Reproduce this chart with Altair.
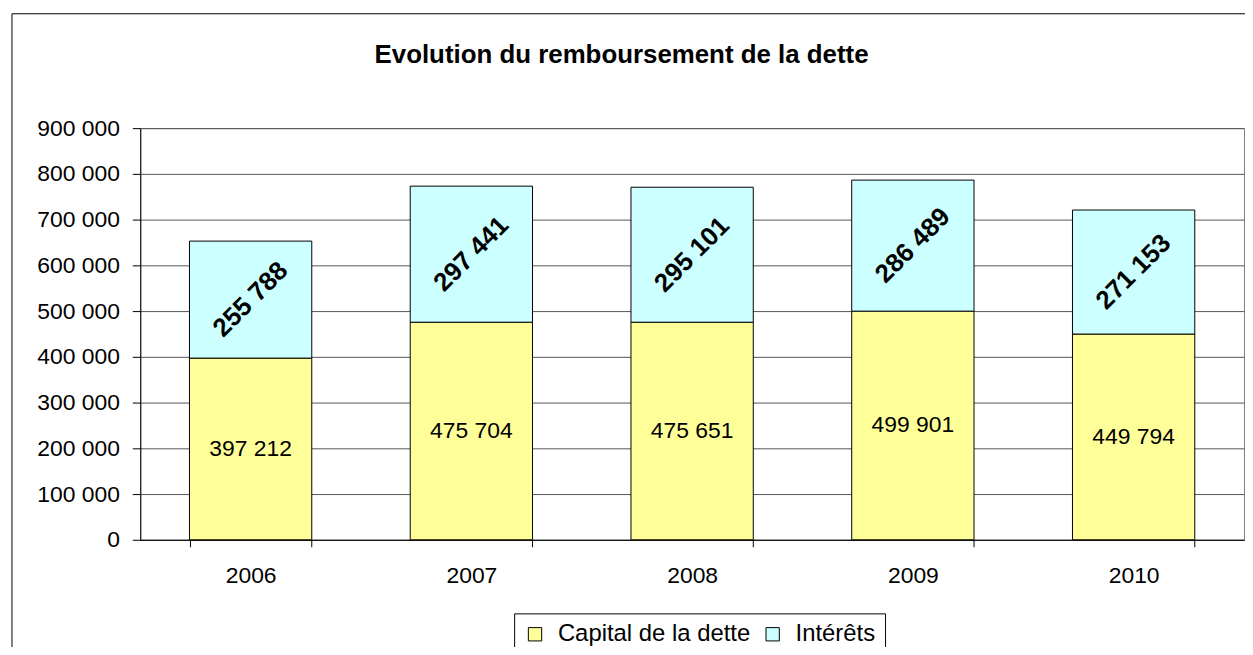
import altair as alt
import pandas as pd

# ---- data ----
titre = "Evolution du remboursement de la dette"
years = ["2006", "2007", "2008", "2009", "2010"]
capital = [397212, 475704, 475651, 499901, 449794]
interets = [255788, 297441, 295101, 286489, 271153]
series = ["Capital de la dette", "Intérêts"]
colors = ["#FFFF99", "#CCFFFF"]
y_ticks = list(range(0, 900001, 100000))

rows = []
for i, yr in enumerate(years):
    rows.append({"annee": yr, "serie": series[0], "ordre": 0, "valeur": capital[i]})
    rows.append({"annee": yr, "serie": series[1], "ordre": 1, "valeur": interets[i]})
df = pd.DataFrame(rows)
df["etiquette"] = df["valeur"].map(lambda v: f"{v:,}".replace(",", " "))

FONT = "Liberation Sans"
W, H = 1110, 414

xscale = alt.Scale(domain=years, paddingInner=0.446, paddingOuter=0.223)
yscale = alt.Scale(domain=[0, 900000], nice=False)

x_enc = alt.X(
    "annee:N",
    scale=xscale,
    axis=alt.Axis(
        title=None, labelAngle=0, tickBand="extent", tickSize=7,
        labelPadding=18, labelBaseline="top", grid=False,
    ),
)

base = (
    alt.Chart(df)
    .transform_stack(
        stack="valeur", groupby=["annee"], as_=["y0", "y1"],
        sort=[alt.SortField("ordre", order="ascending")],
    )
    .transform_calculate(mid="(datum.y0 + datum.y1) / 2")
)

bars = base.mark_bar(stroke="black", strokeWidth=1).encode(
    x=x_enc,
    y=alt.Y(
        "y0:Q",
        scale=yscale,
        axis=alt.Axis(
            title=None, values=y_ticks, tickSize=8, labelPadding=13,
            labelExpr="datum.value == 0 ? '0' : format(datum.value / 1000, 'd') + ' 000'",
            grid=True, gridColor="#555555", gridWidth=1,
        ),
    ),
    y2="y1:Q",
    color=alt.Color(
        "serie:N",
        scale=alt.Scale(domain=series, range=colors),
        legend=alt.Legend(
            title=None, orient="none", legendX=376, legendY=488,
            direction="horizontal", columns=2,
            strokeColor="black", fillColor="white", padding=9,
            symbolType="square", symbolSize=180,
            symbolStrokeColor="black", symbolStrokeWidth=1,
            labelFont=FONT, labelFontSize=24, labelColor="black",
            labelLimit=0, labelOffset=11, columnPadding=10,
        ),
    ),
    order=alt.Order("ordre:Q"),
)

lab_cap = base.transform_filter("datum.ordre == 0").mark_text(
    font=FONT, fontSize=23, color="black", align="center", baseline="middle"
).encode(x=x_enc, y=alt.Y("mid:Q", scale=yscale), text="etiquette:N")

lab_int = base.transform_filter("datum.ordre == 1").mark_text(
    font=FONT, fontSize=26, fontWeight="bold", color="black",
    align="center", baseline="middle", angle=315,
).encode(x=x_enc, y=alt.Y("mid:Q", scale=yscale), text="etiquette:N")

border = alt.Chart(pd.DataFrame({"k": [0]})).mark_rect(
    fill="transparent", stroke="black", strokeWidth=1
).encode(
    x=alt.value(-129), x2=alt.value(1400), y=alt.value(-115), y2=alt.value(700)
)

title_mark = alt.Chart(pd.DataFrame({"titre": [titre]})).mark_text(
    font=FONT, fontSize=26, fontWeight="bold", color="black",
    align="center", baseline="alphabetic",
).encode(x=alt.value(484), y=alt.value(-65), text="titre:N")

chart = (
    alt.layer(border, bars, lab_cap, lab_int, title_mark)
    .properties(
        width=W, height=H,
        autosize=alt.AutoSizeParams(type="none"),
        padding={"left": 133, "top": 119, "right": 1, "bottom": 106},
        background="white",
    )
    .configure_view(stroke="#808080", strokeWidth=1)
    .configure_axis(
        labelFont=FONT, labelFontSize=23, labelColor="black",
        domainColor="black", tickColor="black", domainWidth=1, tickWidth=1,
    )
)

chart.save("out.html", embed_options={"renderer": "svg", "actions": False})
